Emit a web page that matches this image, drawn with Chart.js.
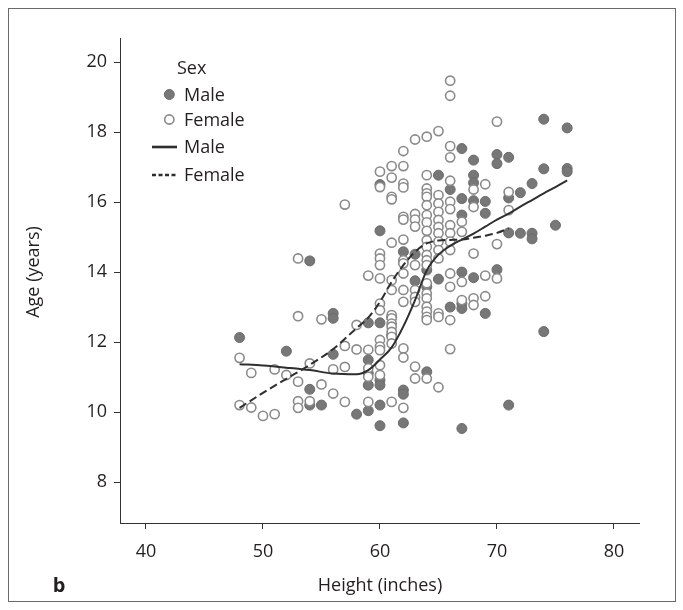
<!DOCTYPE html>
<html><head><meta charset="utf-8">
<script src="https://cdn.jsdelivr.net/npm/chart.js@4.4.0/dist/chart.umd.min.js"></script>
<style>html,body{margin:0;padding:0;background:#fff;}#wrap{position:relative;width:683px;height:610px;}</style>
</head><body><div id="wrap"><canvas id="c" width="683" height="610"></canvas></div>
<script>
// ---- data ----
const xTicks = [40, 50, 60, 70, 80];
const yTicks = [8, 10, 12, 14, 16, 18, 20];
const seriesNames = ['Male', 'Female'];

const maleHeight = [
  48, 52, 54,54,54, 55, 56,56,56, 58, 59,59,59,59,59,
  60,60,60,60,60,60,60, 61,61, 62,62,62,62, 63,63, 64,64,64, 65,65, 66,66,
  67,67,67,67,67,67,67, 68,68,68,68,68, 69,69,69, 70,70,70, 71,71,71,71,
  72,72, 73,73,73, 74,74,74, 75, 76,76,76
];
const maleAge = [
  12.13, 11.74, 14.32,10.65,10.2, 10.2, 12.82,12.68,11.65, 9.94, 12.55,11.49,11.11,10.77,10.04,
  16.5,15.18,12.55,10.91,10.77,10.2,9.61, 12.7,12.2, 14.58,10.63,10.51,9.69, 14.51,13.75, 14.06,13.58,11.15, 16.77,13.8, 16.36,13.0,
  17.53,16.1,15.63,14.0,13.1,12.96,9.53, 17.2,16.77,16.55,16.04,13.84, 16.02,15.68,12.82, 17.36,17.1,14.07, 17.28,16.12,15.12,10.2,
  16.27,15.11, 16.53,15.11,14.95, 18.37,16.95,12.3, 15.34, 18.12,16.96,16.87
];

const femaleHeight = [
  48,48, 49,49, 50, 51,51, 52, 53,53,53,53,53, 54,54, 55,55, 56,56, 57,57,57,57, 58,58, 59,59,59,59,59,
  60,60,60,60,60,60,60,60,60,60,60,60,60,
  61,61,61,61,61,61,61,61,61,61,61,61,61,61,61,
  62,62,62,62,62,62,62,62,62,62,62,62,62,62,62,
  63,63,63,63,63,63,63,63,63,63,
  64,64,64,64,64,64,64,64,64,64,64,64,64,64,64,64,64,64,64,64,64,64,
  65,65,65,65,65,65,65,65,65,65,65,65,65,
  66,66,66,66,66,66,66,66,66,66,66,66,66,66,66,
  67,67,67,67, 68,68,68,68,68, 69,69,69, 70,70,70, 71,71
];
const femaleAge = [
  11.55,10.2, 11.12,10.13, 9.89, 11.22,9.94, 11.06, 14.39,12.74,10.87,10.31,10.12, 11.39,10.31, 12.65,10.79, 11.22,10.53, 15.93,11.89,11.29,10.29, 12.49,11.79, 13.9,11.78,11.25,11.01,10.29,
  16.87,16.43,14.53,14.39,14.2,13.82,13.1,12.91,12.06,11.87,11.77,11.34,11.06,
  17.03,16.7,16.15,16.08,14.84,13.77,13.49,12.77,12.68,12.53,12.44,12.29,12.15,11.96,10.29,
  17.46,17.03,16.53,16.42,15.58,15.5,14.93,14.34,14.25,13.96,13.49,13.15,11.82,11.56,10.12,
  17.79,15.66,15.5,15.3,14.2,13.49,13.29,13.15,11.3,10.96,
  17.87,16.77,16.39,16.25,16.15,15.91,15.63,15.42,15.18,14.91,14.72,14.49,14.34,14.2,13.68,13.39,13.25,13.01,12.87,12.72,12.63,10.96,
  18.03,16.2,15.96,15.72,15.49,15.29,15.11,14.87,14.63,14.39,12.82,12.72,10.71,
  19.47,19.04,17.6,17.28,16.61,16.01,15.8,15.34,15.11,14.87,14.63,13.96,13.58,12.63,11.8,
  15.44,15.15,13.72,13.2, 16.36,15.86,14.53,13.25,13.06, 16.51,13.9,13.31, 18.3,14.8,13.82, 16.29,15.77
];

const maleLineHeight = [48, 50, 52, 54, 56, 58, 59, 60, 61, 62, 63, 64, 65, 66, 67, 68, 69, 70, 71, 72, 73, 74, 75, 76];
const maleLineAge    = [11.37, 11.33, 11.27, 11.2, 11.1, 11.08, 11.2, 11.5, 11.85, 12.45, 13.2, 14.05, 14.5, 14.75, 14.93, 15.1, 15.3, 15.5, 15.67, 15.87, 16.06, 16.25, 16.43, 16.62];
const femaleLineHeight = [48, 50, 52, 54, 56, 58, 59, 60, 61, 62, 63, 64, 65, 66, 67, 68, 69, 70, 71];
const femaleLineAge    = [10.12, 10.55, 10.95, 11.35, 11.8, 12.4, 12.7, 13.15, 13.72, 14.2, 14.58, 14.82, 14.9, 14.92, 14.93, 14.98, 15.04, 15.12, 15.25];

// ---- styling ----
const FONT = "'Open Sans', 'DejaVu Sans', sans-serif";
const TXT = '#231f20';
const AX = '#333333';
const MALE_FILL = '#777777', MALE_EDGE = '#6b6b6b';
const FEM_EDGE = '#8a8a8a';
const LINE = '#2e2e2e';

const zip = (xs, ys) => xs.map((x, i) => ({x: x, y: ys[i]}));

const extras = {
  id: 'extras',
  afterDraw(chart) {
    const ctx = chart.ctx;
    ctx.save();
    // frame
    ctx.strokeStyle = '#6a6a6a'; ctx.lineWidth = 1;
    ctx.strokeRect(8.5, 8.5, 667, 593);
    ctx.fillStyle = TXT;
    ctx.font = '18px ' + FONT;
    // axis titles
    ctx.textAlign = 'center'; ctx.textBaseline = 'middle';
    ctx.fillText('Height (inches)', 380, 586);
    ctx.save(); ctx.translate(34, 272); ctx.rotate(-Math.PI / 2);
    ctx.fillText('Age (years)', 0, 0); ctx.restore();
    // panel letter
    ctx.font = 'bold 20px ' + FONT;
    ctx.fillText('b', 59, 586);
    // legend
    ctx.font = '18px ' + FONT;
    ctx.textAlign = 'left'; ctx.textBaseline = 'alphabetic';
    ctx.fillText('Sex', 177, 74);
    ctx.beginPath(); ctx.arc(169.3, 94.5, 5, 0, Math.PI * 2);
    ctx.fillStyle = MALE_FILL; ctx.fill(); ctx.strokeStyle = MALE_EDGE; ctx.lineWidth = 1; ctx.stroke();
    ctx.beginPath(); ctx.arc(169.3, 119.5, 4.6, 0, Math.PI * 2);
    ctx.fillStyle = '#fff'; ctx.fill(); ctx.strokeStyle = FEM_EDGE; ctx.lineWidth = 1.6; ctx.stroke();
    ctx.fillStyle = TXT;
    ctx.fillText(seriesNames[0], 184, 101);
    ctx.fillText(seriesNames[1], 184, 126);
    ctx.strokeStyle = LINE; ctx.lineWidth = 2.6;
    ctx.beginPath(); ctx.moveTo(152, 147); ctx.lineTo(177, 147); ctx.stroke();
    ctx.setLineDash([4, 2.5]);
    ctx.beginPath(); ctx.moveTo(152, 175); ctx.lineTo(177, 175); ctx.stroke();
    ctx.setLineDash([]);
    ctx.fillText(seriesNames[0], 184, 153);
    ctx.fillText(seriesNames[1], 184, 181);
    ctx.restore();
  }
};

new Chart(document.getElementById('c'), {
  type: 'scatter',
  data: {
    datasets: [
      { type: 'line', label: 'Male (smooth)', data: zip(maleLineHeight, maleLineAge), borderColor: LINE, borderWidth: 2,
        pointRadius: 0, fill: false, cubicInterpolationMode: 'monotone', order: 0 },
      { type: 'line', label: 'Female (smooth)', data: zip(femaleLineHeight, femaleLineAge), borderColor: LINE, borderWidth: 2,
        borderDash: [8, 4], pointRadius: 0, fill: false, cubicInterpolationMode: 'monotone', order: 0 },
      { label: 'Female', data: zip(femaleHeight, femaleAge), pointRadius: 4.6, pointBackgroundColor: '#ffffff',
        pointBorderColor: FEM_EDGE, pointBorderWidth: 1.6, order: 1 },
      { label: 'Male', data: zip(maleHeight, maleAge), pointRadius: 5, pointBackgroundColor: MALE_FILL,
        pointBorderColor: MALE_EDGE, pointBorderWidth: 1, order: 2 }
    ]
  },
  options: {
    responsive: false, animation: false, devicePixelRatio: 1,
    layout: { padding: { left: 0, right: 44, top: 38, bottom: 0 } },
    plugins: { legend: { display: false }, tooltip: { enabled: false } },
    scales: {
      x: {
        type: 'linear', min: 37.78, max: 82.14,
        afterBuildTicks: s => { s.ticks = xTicks.map(v => ({value: v})); },
        afterFit: s => { s.height = 87; },
        grid: { drawOnChartArea: false, color: AX, tickLength: 6, lineWidth: 1 },
        border: { display: true, color: AX, width: 1 },
        ticks: { color: TXT, font: { family: FONT, size: 18 }, padding: 12, maxRotation: 0 }
      },
      y: {
        type: 'linear', min: 6.83, max: 20.69,
        afterBuildTicks: s => { s.ticks = yTicks.map(v => ({value: v})); },
        afterFit: s => { s.width = 120; },
        grid: { drawOnChartArea: false, color: AX, tickLength: 6, lineWidth: 1 },
        border: { display: true, color: AX, width: 1 },
        ticks: { color: TXT, font: { family: FONT, size: 18 }, padding: 7 }
      }
    }
  },
  plugins: [extras]
});
</script>
</body></html>
